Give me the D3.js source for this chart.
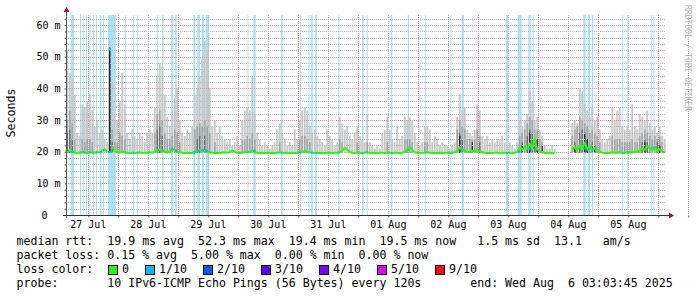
<!DOCTYPE html>
<html>
<head>
<meta charset="utf-8">
<script src="https://cdn.jsdelivr.net/npm/d3@7"></script>
<style>
    body { margin: 0; background: #fff; }
    svg text { font-family: "DejaVu Sans Mono", monospace; fill: #000; white-space: pre; }
</style>
</head>
<body>
<svg id="chart" width="697" height="297"></svg>
<script>
// Values
const startTime = new Date(2025, 6, 27, 3, 3, 45);
const endTime = new Date(2025, 7, 6, 3, 3, 45);

const yTicks = [0, 10, 20, 30, 40, 50, 60];
const yTickLabels = ["0", "10 m", "20 m", "30 m", "40 m", "50 m", "60 m"];
const dayLabels = ["27 Jul", "28 Jul", "29 Jul", "30 Jul", "31 Jul", "01 Aug", "02 Aug", "03 Aug", "04 Aug", "05 Aug"];

// hourly top of the lightest smoke (max ping), ms
const smokeMax = [
    52, 45, 43, 38, 26, 25, 35, 34, 36, 38, 33, 28, 30, 26, 27, 24, 23, 55, 42, 32, 30, 36, 45, 35,
    26, 24, 27, 25, 24, 26, 25, 23, 26, 27, 26, 34, 44, 48, 47, 38, 31, 28, 33, 37, 40, 30, 26, 25,
    27, 26, 28, 38, 40, 44, 49, 55, 52, 40, 28, 30, 26, 28, 25, 24, 23, 24, 22, 23, 25, 22, 30, 33,
    34, 33, 44, 32, 26, 24, 22, 23, 22, 21, 22, 23, 27, 29, 26, 24, 22, 23, 22, 27, 24, 30, 33, 34,
    33, 28, 26, 27, 25, 24, 23, 22, 27, 25, 24, 22, 23, 31, 29, 27, 28, 25, 24, 26, 28, 25, 24, 23,
    32, 23, 22, 21, 22, 21, 26, 27, 31, 27, 24, 23, 28, 24, 25, 31, 30, 31, 30, 26, 23, 22, 23, 28,
    28, 27, 23, 25, 24, 22, 23, 22, 22, 21, 22, 23, 31, 38, 33, 34, 27, 26, 25, 27, 35, 33, 25, 24,
    25, 23, 24, 23, 24, 24, 25, 23, 22, 23, 22, 21, 23, 30, 28, 30, 32, 39, 36, 30, 31, 27, 25, 22,
    21, 21, 22, 21, null, null, null, null, null, null, 29, 30, 29, 40, 39, 35, 33, 31, 34, 30, 31, 27, 24, 23,
    24, 25, 34, 30, 33, 34, 28, 27, 28, 27, 35, 28, 27, 32, 31, 30, 33, 29, 27, 28, 26, 28, 25, 24
];

// hourly top of the middle smoke band, ms
const smokeMid = [
    30, 33, 29, 24, 22, 22, 24, 23, 24, 24, 23, 22, 22, 22, 22, 22, 22, 53, 27, 23, 23, 26, 25, 24,
    22, 22, 22, 22, 22, 22, 22, 22, 22, 22, 22, 26, 32, 33, 30, 26, 24, 24, 25, 27, 26, 23, 22, 22,
    22, 22, 22, 27, 28, 29, 28, 30, 28, 26, 22, 23, 22, 22, 22, 22, 22, 22, 21, 22, 22, 21, 24, 24,
    25, 24, 26, 24, 22, 22, 21, 21, 21, 21, 21, 21, 22, 23, 22, 22, 21, 21, 21, 22, 21, 24, 25, 25,
    24, 23, 22, 22, 22, 22, 21, 21, 22, 22, 22, 21, 22, 24, 23, 22, 22, 22, 22, 22, 23, 22, 22, 21,
    23, 21, 21, 21, 21, 21, 22, 22, 23, 22, 22, 21, 22, 21, 22, 24, 24, 24, 23, 22, 21, 21, 21, 23,
    23, 22, 21, 22, 22, 21, 21, 21, 21, 21, 21, 22, 27, 30, 28, 27, 24, 24, 24, 24, 27, 25, 22, 22,
    22, 21, 22, 21, 22, 22, 22, 21, 21, 21, 21, 21, 22, 25, 26, 27, 29, 31, 30, 27, 27, 24, 23, 21,
    21, 21, 21, 21, null, null, null, null, null, null, 25, 27, 28, 31, 30, 29, 28, 26, 27, 26, 25, 23, 22, 22,
    22, 22, 25, 24, 24, 24, 23, 23, 23, 23, 24, 23, 23, 25, 26, 27, 26, 25, 24, 25, 24, 25, 23, 22
];

// [hour, top ms] of the dark smoke and the black core
const smokeDark = [
    [0, 26], [1, 27], [2, 24], [17, 53], [18, 23], [36, 27], [37, 28], [38, 25], [52, 24], [53, 25],
    [55, 25], [157, 26], [158, 24], [165, 23], [182, 23], [184, 25], [185, 27], [186, 26], [187, 24],
    [188, 23], [203, 23], [205, 26], [206, 27], [207, 25], [208, 24], [210, 23], [230, 23], [231, 24],
    [232, 23], [236, 23]
];
const smokeBlack = [
    [17, 52], [157, 25], [162, 23], [182, 22], [185, 26], [188, 24], [190, 22], [203, 22], [207, 26],
    [208, 24], [211, 22], [231, 23], [237, 22]
];

// hourly median rtt, ms
const medianRtt = [
    19.8, 20.6, 19.9, 19.7, 19.6, 19.7, 19.8, 19.7, 19.6, 19.8, 19.7, 19.7, 19.8, 19.9, 20.4, 20.8, 19.9, 52.3, 21.6, 20.2, 19.8, 19.7, 20.1, 19.8,
    19.7, 19.6, 19.7, 19.6, 19.7, 19.8, 19.6, 19.7, 19.7, 19.8, 19.7, 20.0, 20.3, 20.8, 20.4, 19.9, 19.7, 20.2, 20.9, 20.4, 19.9, 19.8, 19.7, 19.6,
    19.7, 19.6, 19.7, 19.9, 20.2, 20.6, 20.4, 20.3, 20.0, 19.8, 19.7, 19.6, 19.7, 19.6, 19.7, 19.8, 19.7, 19.8, 20.4, 19.9, 19.7, 19.6, 19.7, 19.8,
    19.9, 20.0, 20.3, 19.8, 19.7, 19.6, 19.7, 19.6, 19.7, 19.6, 19.7, 19.6, 19.7, 19.8, 19.7, 19.6, 19.7, 19.6, 19.7, 19.6, 19.7, 19.8, 19.9, 20.1,
    19.9, 19.8, 19.7, 19.6, 19.7, 19.6, 19.7, 19.6, 19.7, 19.7, 19.6, 19.7, 19.7, 19.8, 20.3, 21.2, 20.6, 20.0, 19.7, 19.6, 19.7, 19.7, 19.6, 19.7,
    19.8, 19.7, 19.6, 19.7, 19.6, 19.7, 19.7, 19.6, 19.7, 19.7, 19.6, 19.7, 19.7, 19.6, 19.7, 19.9, 20.6, 21.4, 20.5, 19.8, 19.7, 19.6, 19.7, 19.7,
    19.8, 19.7, 19.6, 19.7, 19.6, 19.7, 19.6, 19.7, 19.7, 19.6, 19.7, 19.8, 20.3, 21.3, 20.5, 20.2, 20.0, 19.9, 20.3, 20.1, 20.8, 20.2, 19.8, 19.7,
    19.6, 19.7, 19.6, 19.7, 19.7, 19.6, 19.7, 19.7, 19.6, 19.7, 19.6, 19.7, 20.0, 21.5, 20.6, 21.7, 21.0, 22.4, 21.2, 24.0, 20.8, 20.3, 19.8, 19.6,
    19.6, 19.5, 19.6, 19.5, null, null, null, null, null, null, 20.6, 21.5, 20.4, 21.9, 21.0, 22.6, 20.8, 21.7, 20.5, 21.2, 20.3, 19.9, 19.7, 19.6,
    19.7, 19.6, 19.8, 19.7, 19.7, 19.8, 19.6, 19.7, 19.8, 19.7, 19.9, 19.8, 20.0, 20.5, 21.0, 20.6, 21.7, 21.1, 20.5, 21.5, 20.3, 20.8, 20.0, 19.8
];
// hours whose median sample itself carried 1/10 loss
const medianLossHours = [17];

// [start hour, duration hours] of samples with 1/10 loss
const lossBars = [
    [2.0, 1.2], [5.6, 0.4], [6.8, 0.4], [8.0, 0.4], [9.4, 0.4], [10.8, 0.4], [12.0, 0.4], [13.6, 0.6],
    [14.8, 0.4], [16.8, 3.2], [23.6, 0.4], [26.8, 0.4], [28.4, 0.4], [36.4, 0.4], [38.4, 0.6], [42.0, 0.9],
    [43.6, 0.7], [50.9, 0.7], [52.5, 1.1], [54.3, 0.9], [55.9, 1.3], [72.6, 0.4], [74.9, 1.0], [86.0, 0.7],
    [93.6, 0.4], [97.0, 0.4], [98.0, 0.7], [99.6, 0.7], [108.9, 0.4], [118.4, 0.6], [120.3, 0.4], [130.0, 0.5],
    [136.7, 0.5], [143.6, 0.4], [153.8, 0.4], [158.3, 0.9], [176.0, 0.9], [180.7, 1.6], [184.9, 1.0],
    [186.7, 0.5], [206.9, 1.0], [208.7, 0.9], [210.3, 0.6], [222.5, 0.4], [224.5, 0.4], [233.9, 0.4], [235.0, 0.4]
];

const lossLevels = ["0", "1/10", "2/10", "3/10", "4/10", "5/10", "9/10"];
const lossColors = ["#26ff00", "#00b8ff", "#0059ff", "#5e00ff", "#7e00ff", "#dd00ff", "#ff0000"];

const legendLines = [
    "median rtt:  19.9 ms avg  52.3 ms max  19.4 ms min  19.5 ms now   1.5 ms sd  13.1   am/s",
    "packet loss: 0.15 % avg  5.00 % max  0.00 % min  0.00 % now",
    "loss color:",
    "probe:       10 IPv6-ICMP Echo Pings (56 Bytes) every 120s       end: Wed Aug  6 03:03:45 2025"
];

class SmokeChart {

    /**
     * @param config - object, drawing area and plot box
     */
    constructor(config) {
        this.config = config;
        this.configureVis();
    }

    /**
     * Set up scales and groups.
     */
    configureVis() {
        const vis = this;
        const c = vis.config;

        vis.svg = d3.select(c.parentElement);
        vis.xScale = d3.scaleTime().domain([startTime, endTime]).range([c.left, c.right]);
        vis.yScale = d3.scaleLinear().domain([0, c.yMax]).range([c.bottom, c.top]);
        vis.hourTime = h => new Date(startTime.getTime() + h * 3600e3);

        vis.lossLayer = vis.svg.append('g');
        vis.smokeLayer = vis.svg.append('g');
        vis.gridLayer = vis.svg.append('g');
        vis.lineLayer = vis.svg.append('g');
        vis.axisLayer = vis.svg.append('g');
        vis.legendLayer = vis.svg.append('g');

        vis.renderVis();
    }

    /**
     * Draw all marks.
     */
    renderVis() {
        const vis = this;
        const c = vis.config;
        const x = vis.xScale, y = vis.yScale;
        const base = y(19.6);
        const hx = h => x(vis.hourTime(h));

        // loss background bars
        vis.lossLayer.selectAll('rect')
            .data(lossBars)
            .join('rect')
            .attr('x', d => hx(d[0]))
            .attr('width', d => Math.max(1, hx(d[0] + d[1]) - hx(d[0])))
            .attr('y', c.top)
            .attr('height', c.bottom - c.top)
            .attr('fill', '#a9e3f9');

        // smoke bands, lightest first
        const hourly = arr => arr.map((v, i) => [i, v]).filter(d => d[1] != null);
        const bands = [
            { data: hourly(smokeMax), color: '#c8c8c8', w: 1.9 },
            { data: hourly(smokeMid).filter(d => d[1] > 22), color: '#a2a2a2', w: 1.6 },
            { data: smokeDark, color: '#6a6a6a', w: 1.3 },
            { data: smokeBlack, color: '#151515', w: 1.1 }
        ];
        vis.smokeLayer.selectAll('g')
            .data(bands)
            .join('g')
            .attr('fill', d => d.color)
            .each(function (b) {
                d3.select(this).selectAll('rect')
                    .data(b.data)
                    .join('rect')
                    .attr('x', d => hx(d[0] + 0.5) - b.w / 2)
                    .attr('width', b.w)
                    .attr('y', d => y(d[1]))
                    .attr('height', d => Math.max(0, base - y(d[1])));
            });

        // grid
        const minorY = d3.range(0, c.yMax, 2).filter(v => v % 10 !== 0);
        vis.gridLayer.selectAll('.hgrid')
            .data(minorY)
            .join('line')
            .attr('class', 'hgrid')
            .attr('x1', c.left).attr('x2', c.right)
            .attr('y1', d => Math.round(y(d)) + 0.5).attr('y2', d => Math.round(y(d)) + 0.5)
            .attr('stroke', '#b9b9b9').attr('stroke-dasharray', '1,1');

        const days = d3.timeDay.range(startTime, endTime);
        const noons = d3.timeDay.range(d3.timeDay.floor(startTime), endTime).map(d => d3.timeHour.offset(d, 12));
        vis.gridLayer.selectAll('.vgrid')
            .data(noons)
            .join('line')
            .attr('class', 'vgrid')
            .attr('x1', d => Math.round(x(d)) + 0.5).attr('x2', d => Math.round(x(d)) + 0.5)
            .attr('y1', c.top).attr('y2', c.bottom)
            .attr('stroke', '#b9b9b9').attr('stroke-dasharray', '1,1');

        vis.gridLayer.selectAll('.hmgrid')
            .data(yTicks.filter(v => v > 0))
            .join('line')
            .attr('class', 'hmgrid')
            .attr('x1', c.left).attr('x2', c.right)
            .attr('y1', d => Math.round(y(d)) + 0.5).attr('y2', d => Math.round(y(d)) + 0.5)
            .attr('stroke', '#e39292').attr('stroke-dasharray', '1,1');

        vis.gridLayer.selectAll('.vmgrid')
            .data(days)
            .join('line')
            .attr('class', 'vmgrid')
            .attr('x1', d => Math.round(x(d)) + 0.5).attr('x2', d => Math.round(x(d)) + 0.5)
            .attr('y1', c.top).attr('y2', c.bottom)
            .attr('stroke', '#e39292').attr('stroke-dasharray', '1,1');

        // median line, coloured by loss
        const line = d3.line()
            .defined(d => d[1] != null && !medianLossHours.includes(d[0]))
            .x(d => hx(d[0] + 0.5))
            .y(d => y(d[1]));
        const med = medianRtt.map((v, i) => [i, v]);
        vis.lineLayer.append('path')
            .attr('d', line(med))
            .attr('fill', 'none')
            .attr('stroke', lossColors[0])
            .attr('stroke-width', 2);

        vis.lineLayer.selectAll('.lossdot')
            .data(lossBars)
            .join('rect')
            .attr('class', 'lossdot')
            .attr('x', d => hx(d[0]))
            .attr('width', d => Math.max(1, Math.min(2.5, hx(d[0] + d[1]) - hx(d[0]))))
            .attr('y', d => y(medianRtt[Math.floor(d[0])]) - 1)
            .attr('height', 2)
            .attr('fill', lossColors[1]);

        vis.lineLayer.selectAll('.losspeak')
            .data(medianLossHours)
            .join('rect')
            .attr('class', 'losspeak')
            .attr('x', d => hx(d + 0.5) - 1)
            .attr('width', 2)
            .attr('y', d => y(medianRtt[d]) - 1)
            .attr('height', 2)
            .attr('fill', lossColors[1]);

        // axes
        const yAxis = d3.axisLeft(y)
            .tickValues(d3.range(0, c.yMax, 2))
            .tickSize(2)
            .tickFormat(d => {
                const i = yTicks.indexOf(d);
                return i >= 0 ? yTickLabels[i] : '';
            });
        const gy = vis.axisLayer.append('g')
            .attr('transform', `translate(${c.left + 0.5},0)`)
            .call(yAxis);
        gy.select('.domain').remove();
        gy.selectAll('line').attr('stroke', '#555');
        gy.selectAll('text')
            .attr('x', -6)
            .style('font-size', '10px')
            .attr('dx', d => d === 0 ? -13 : 0);

        const xAxis = d3.axisBottom(x)
            .tickValues(noons.concat(days))
            .tickSize(2)
            .tickFormat('');
        const gx = vis.axisLayer.append('g')
            .attr('transform', `translate(0,${c.bottom + 0.5})`)
            .call(xAxis);
        gx.select('.domain').remove();
        gx.selectAll('line').attr('stroke', '#555');

        vis.axisLayer.selectAll('.daylabel')
            .data(noons.slice(0, dayLabels.length))
            .join('text')
            .attr('class', 'daylabel')
            .attr('x', d => x(d))
            .attr('y', 228)
            .attr('text-anchor', 'middle')
            .style('font-size', '10px')
            .text((d, i) => dayLabels[i]);

        vis.axisLayer.append('line')
            .attr('x1', c.left + 0.5).attr('x2', c.left + 0.5)
            .attr('y1', c.bottom + 3).attr('y2', c.top - 4)
            .attr('stroke', '#555');
        vis.axisLayer.append('line')
            .attr('x1', c.left - 3).attr('x2', c.right + 4)
            .attr('y1', c.bottom + 0.5).attr('y2', c.bottom + 0.5)
            .attr('stroke', '#333');
        vis.axisLayer.append('path')
            .attr('d', `M${c.left + 0.5},${c.top - 8} l-3,5 h6 z`)
            .attr('fill', '#9b1c1c');
        vis.axisLayer.append('path')
            .attr('d', `M${c.right + 8},${c.bottom + 0.5} l-5,-3 v6 z`)
            .attr('fill', '#9b1c1c');

        // titles
        vis.axisLayer.append('text')
            .attr('transform', 'translate(15,113) rotate(-90)')
            .attr('text-anchor', 'middle')
            .style('font-size', '11.6px')
            .text('Seconds');
        vis.axisLayer.append('text')
            .attr('transform', 'translate(685,5) rotate(90)')
            .style('font-size', '8px')
            .style('fill', '#b0b0b0')
            .text('RRDTOOL / TOBI OETIKER');

        // legend
        vis.legendLayer.selectAll('.legline')
            .data(legendLines)
            .join('text')
            .attr('class', 'legline')
            .attr('x', 16.5)
            .attr('y', (d, i) => 245 + i * 14)
            .style('font-size', '11.6px')
            .text(d => d);

        let sx = 108;
        const items = lossLevels.map((lab, i) => {
            const item = { lab, color: lossColors[i], x: sx };
            sx += 30 + 7 * lab.length;
            return item;
        });
        const li = vis.legendLayer.selectAll('.lossitem')
            .data(items)
            .join('g')
            .attr('class', 'lossitem');
        li.append('rect')
            .attr('x', d => d.x + 0.5).attr('y', 265.5)
            .attr('width', 9).attr('height', 9)
            .attr('fill', d => d.color)
            .attr('stroke', '#000');
        li.append('text')
            .attr('x', d => d.x + 14)
            .attr('y', 273)
            .style('font-size', '11.6px')
            .text(d => d.lab);
    }
}

new SmokeChart({
    parentElement: '#chart',
    left: 66, right: 666, top: 15, bottom: 215, yMax: 63.2
});
</script>
</body>
</html>
